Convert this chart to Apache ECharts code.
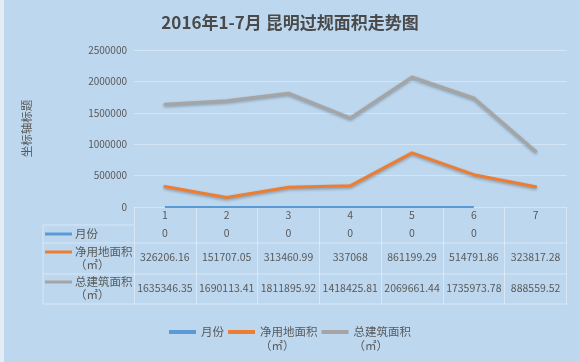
<!DOCTYPE html>
<html>
<head>
<meta charset="utf-8">
<script src="https://cdn.jsdelivr.net/npm/echarts@6/dist/echarts.min.js"></script>
<style>
html,body{margin:0;padding:0;background:#BDD7EE;}
#c{width:580px;height:362px;}
</style>
</head>
<body>
<div id="c"></div>
<script>
var categories = ['1', '2', '3', '4', '5', '6', '7'];
var monthVals = [0, 0, 0, 0, 0, 0, null];
var landArea = [326206.16, 151707.05, 313460.99, 337068, 861199.29, 514791.86, 323817.28];
var buildArea = [1635346.35, 1690113.41, 1811895.92, 1418425.81, 2069661.44, 1735973.78, 888559.52];
var seriesNames = ['月份', '净用地面积（㎡）', '总建筑面积（㎡）'];
var seriesColors = ['#5B9BD5', '#ED7D31', '#A5A5A5'];
var yMin = 0, yMax = 2500000, yStep = 500000;

var FONT = '"Noto Sans CJK SC", "Microsoft YaHei", sans-serif';
var TXT = '#595959';
var TLINE = 'rgba(255,255,255,0.4)';
function fmt(v) { return v == null ? '' : String(v); }

var chart = echarts.init(document.getElementById('c'), null, {renderer: 'canvas'});

function rowAxis(vals, offset) {
  return {
    type: 'category', data: categories, gridIndex: 0, position: 'bottom', offset: offset,
    boundaryGap: true,
    axisLine: {show: false}, axisTick: {show: false}, splitLine: {show: false},
    axisLabel: {interval: 0, margin: 0, fontSize: 10.5, color: TXT, fontFamily: FONT,
      formatter: function (v, i) { return fmt(vals[i]); }}
  };
}

var rows = [
  {color: seriesColors[0], y: 234, lines: ['月份']},
  {color: seriesColors[1], y: 252, lines: ['净用地面积', '（㎡）']},
  {color: seriesColors[2], y: 282, lines: ['总建筑面积', '（㎡）']}
];
var graphics = [
  {type: 'rect', shape: {x: 0, y: 0, width: 4, height: 362}, style: {fill: '#E4EDF6'}, silent: true},
  {type: 'line', shape: {x1: 43, y1: 225, x2: 134, y2: 225}, style: {stroke: TLINE, lineWidth: 1}},
  {type: 'line', shape: {x1: 43, y1: 243, x2: 567, y2: 243}, style: {stroke: TLINE, lineWidth: 1}},
  {type: 'line', shape: {x1: 43, y1: 274, x2: 567, y2: 274}, style: {stroke: TLINE, lineWidth: 1}},
  {type: 'line', shape: {x1: 43, y1: 304, x2: 567, y2: 304}, style: {stroke: TLINE, lineWidth: 1}},
  {type: 'line', shape: {x1: 43, y1: 225, x2: 43, y2: 304}, style: {stroke: TLINE, lineWidth: 1}}
];
rows.forEach(function (r) {
  graphics.push({type: 'line', shape: {x1: 45, y1: r.y, x2: 72, y2: r.y},
    style: {stroke: r.color, lineWidth: 3}});
  r.lines.forEach(function (t, k) {
    graphics.push({type: 'text', x: 75, y: r.y + k * 13,
      style: {text: t, fontSize: 11.5, fontFamily: FONT, fill: TXT, verticalAlign: 'middle', align: 'left'}});
  });
});

var option = {
  backgroundColor: '#BDD7EE',
  animation: false,
  title: {
    text: '2016年1-7月 昆明过规面积走势图', left: 'center', top: 9,
    textStyle: {fontSize: 17, fontWeight: 'bold', color: '#4A4A4A', fontFamily: FONT}
  },
  legend: {
    top: 306, left: 'center', itemWidth: 27, itemHeight: 4, itemGap: 4, icon: 'rect',
    textStyle: {fontSize: 11.5, color: TXT, fontFamily: FONT, lineHeight: 14},
    formatter: function (name) {
      var i = name.indexOf('（');
      return i > 0 ? '\n' + name.slice(0, i) + '\n' + name.slice(i) : name;
    },
    data: seriesNames
  },
  grid: {left: 134, right: 13.5, top: 50, bottom: 155, containLabel: false},
  xAxis: [
    {
      type: 'category', data: categories, boundaryGap: true, position: 'bottom',
      axisLine: {show: false},
      axisTick: {show: true, length: 97, lineStyle: {color: TLINE, width: 1}, interval: 0},
      axisLabel: {interval: 0, margin: 3, fontSize: 10.5, color: TXT, fontFamily: FONT},
      splitLine: {show: false}
    },
    rowAxis(monthVals, 21),
    rowAxis(landArea, 45),
    rowAxis(buildArea, 76)
  ],
  yAxis: {
    type: 'value', min: yMin, max: yMax, interval: yStep,
    name: '坐标轴标题', nameLocation: 'middle', nameRotate: 90, nameGap: 102,
    nameTextStyle: {fontSize: 11.5, color: TXT, fontFamily: FONT},
    axisLine: {show: false}, axisTick: {show: false},
    axisLabel: {fontSize: 10, color: TXT, fontFamily: FONT, margin: 7,
      formatter: function (v) { return String(v); }},
    splitLine: {lineStyle: {color: 'rgba(255,255,255,0.35)', width: 1}}
  },
  graphic: graphics,
  series: [
    {name: seriesNames[0], type: 'line', data: monthVals, symbol: 'none', connectNulls: false,
      itemStyle: {color: seriesColors[0]},
      lineStyle: {color: seriesColors[0], width: 2}},
    {name: seriesNames[1], type: 'line', data: landArea, symbol: 'none',
      itemStyle: {color: seriesColors[1]},
      lineStyle: {color: seriesColors[1], width: 3, join: 'round', cap: 'round',
        shadowBlur: 3, shadowColor: 'rgba(0,0,0,0.3)', shadowOffsetY: 1.5}},
    {name: seriesNames[2], type: 'line', data: buildArea, symbol: 'none',
      itemStyle: {color: seriesColors[2]},
      lineStyle: {color: seriesColors[2], width: 3, join: 'round', cap: 'round',
        shadowBlur: 3, shadowColor: 'rgba(0,0,0,0.3)', shadowOffsetY: 1.5}}
  ]
};
chart.setOption(option);
</script>
</body>
</html>
